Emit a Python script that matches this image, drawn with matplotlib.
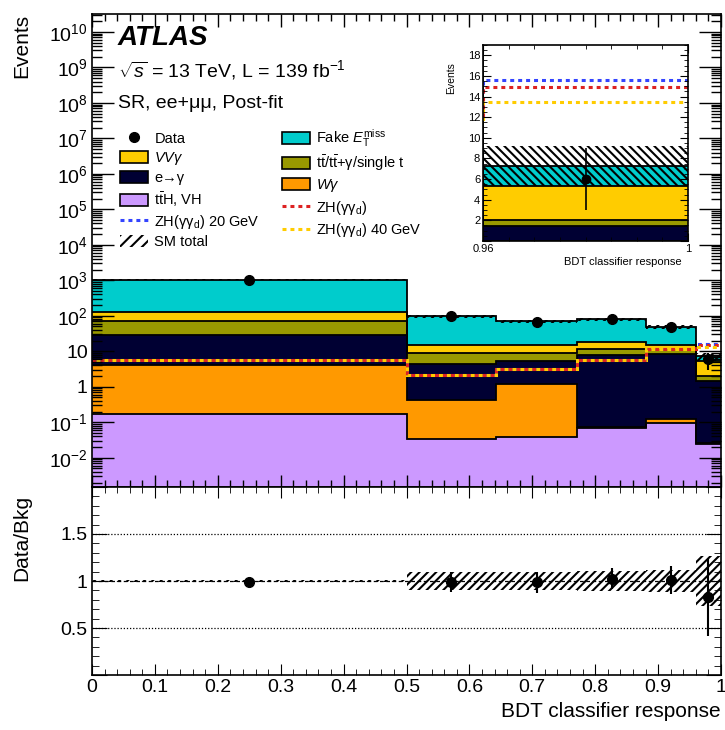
import numpy as np
import matplotlib
matplotlib.use('Agg')
import matplotlib.pyplot as plt
from matplotlib.patches import Patch
from matplotlib.lines import Line2D
from matplotlib.ticker import (FixedLocator, MultipleLocator, LogLocator,
                               FuncFormatter, NullFormatter)

plt.rcParams['font.family'] = ['Liberation Sans', 'DejaVu Sans']
plt.rcParams['mathtext.fontset'] = 'custom'
plt.rcParams['mathtext.rm'] = 'Liberation Sans'
plt.rcParams['mathtext.it'] = 'Liberation Sans:italic'
plt.rcParams['mathtext.bf'] = 'Liberation Sans:bold'
plt.rcParams['hatch.linewidth'] = 1.5

# BDT bins
edges = [0.0, 0.5, 0.643, 0.771, 0.881, 0.96, 1.0]
centers = [0.25, 0.571, 0.707, 0.826, 0.921, 0.98]

# post-fit yields per process, bottom of the stack first
tth_vh = [0.17, 0.034, 0.038, 0.071, 0.094, 0.025]
w_gamma = [4.03, 0.396, 1.15, 0.001, 0.031, 0.001]
e_gamma = [25.3, 4.07, 4.31, 7.93, 8.28, 1.41]
top_bkg = [40.5, 4.4, 3.4, 3.6, 2.2, 0.56]
vv_gamma = [56.0, 6.5, 6.1, 6.7, 4.0, 3.33]
fake_met = [924.0, 81.6, 55.0, 61.7, 33.9, 1.95]

# relative uncertainty on SM total
sm_unc = [0.015, 0.10, 0.10, 0.11, 0.12, 0.27]

# data
data = [1040, 96, 69, 82, 49, 6]
data_err = [32, 10, 8, 9, 7, 3]

# signal hypotheses (not stacked)
sig_zh = [5.8, 2.1, 3.2, 5.8, 11.8, 14.9]
sig_20 = [5.8, 2.1, 3.2, 5.8, 11.8, 15.6]
sig_40 = [5.8, 2.1, 3.2, 5.8, 11.8, 13.5]

procs = [tth_vh, w_gamma, e_gamma, top_bkg, vv_gamma, fake_met]
proc_cols = ['#cc99ff', '#ff9900', '#000033', '#999900', '#ffcc00', '#00cccc']
c_blue, c_red, c_yel = '#3344ff', '#dd2222', '#ffcc00'
dots = (0, (1.3, 1.3))
dots_off = (1.3, (1.3, 1.3))

total = np.sum(np.array(procs), axis=0)
unc = np.array(sm_unc)


def draw_stack(a, floor):
    prev = np.full(len(total), floor)
    cum = np.zeros(len(total))
    tops = []
    for vals, col in zip(procs, proc_cols):
        cum = cum + np.array(vals)
        a.stairs(cum, edges, baseline=prev, fill=True, color=col, lw=0)
        prev = cum.copy()
        tops.append(cum.copy())
    for t in tops:
        a.stairs(t, edges, baseline=None, color='k', lw=1.3)


def draw_signals(a, lw):
    a.stairs(sig_20, edges, baseline=None, color=c_blue, lw=lw, ls=dots)
    a.stairs(sig_zh, edges, baseline=None, color=c_red, lw=lw, ls=dots)
    a.stairs(sig_40, edges, baseline=None, color=c_yel, lw=lw, ls=dots_off)


fig = plt.figure(figsize=(7.25, 7.30), dpi=100)
ax = fig.add_axes([0.1269, 0.3329, 0.8676, 0.6479])
rax = fig.add_axes([0.1269, 0.0753, 0.8676, 0.2576], sharex=ax)

# ---- main panel
draw_stack(ax, 1e-5)
ax.stairs(total * (1 + unc), edges, baseline=total * (1 - unc), fill=True,
          facecolor='none', edgecolor='k', lw=0, hatch='////')
draw_signals(ax, 2.2)
ax.errorbar(centers, data, yerr=data_err, fmt='o', color='k', ms=7,
            elinewidth=1.5, capsize=0, zorder=5)

ax.set_yscale('log')
ax.set_ylim(1.5e-3, 3.2e10)
ax.set_xlim(0, 1)
ax.yaxis.set_major_locator(LogLocator(base=10, numticks=30))
ax.yaxis.set_minor_locator(LogLocator(base=10, subs=np.arange(2, 10), numticks=300))
ax.yaxis.set_minor_formatter(NullFormatter())


def log_fmt(v, pos):
    n = int(round(np.log10(v)))
    if n == 0:
        return '1'
    if n == 1:
        return '10'
    return r'$10^{%d}$' % n


ax.yaxis.set_major_formatter(FuncFormatter(log_fmt))
ax.tick_params(which='both', direction='in', top=True, right=True,
               labelbottom=False, labelsize=14, pad=3)
ax.tick_params(axis='y', which='major', length=16, width=1)
ax.tick_params(axis='y', which='minor', length=7, width=1)
ax.tick_params(axis='x', which='major', length=9, width=1)
ax.tick_params(axis='x', which='minor', length=5, width=1)
ax.xaxis.set_major_locator(MultipleLocator(0.1))
ax.xaxis.set_minor_locator(MultipleLocator(0.02))
ax.set_ylabel('Events', fontsize=15, loc='top')
ax.yaxis.set_label_coords(-0.097, 1.0)

fig.text(118 / 725, 1 - 45 / 730, 'ATLAS', fontsize=20, fontweight='bold',
         fontstyle='italic', va='baseline')
fig.text(118 / 725, 1 - 77 / 730, r'$\sqrt{s}$ = 13 TeV, L = 139 fb$^{-1}$',
         fontsize=14, va='baseline')
fig.text(118 / 725, 1 - 108 / 730, 'SR, ee+μμ, Post-fit', fontsize=14,
         va='baseline')

h_data = Line2D([], [], marker='o', color='k', ls='none', ms=7)
h_sm = Patch(facecolor='white', edgecolor='k', lw=0, hatch='///')


def box(c):
    return Patch(facecolor=c, edgecolor='k', lw=1.2)


handles = [h_data, box('#ffcc00'), box('#000033'), box('#cc99ff'),
           Line2D([], [], color=c_blue, lw=2.2, ls=dots), h_sm,
           box('#00cccc'), box('#999900'), box('#ff9900'),
           Line2D([], [], color=c_red, lw=2.2, ls=dots),
           Line2D([], [], color=c_yel, lw=2.2, ls=dots)]
labels = ['Data', r'$VV\gamma$', 'e→γ', r't$\bar{\rm t}$H, VH',
          r'ZH(γγ$_{\rm d}$) 20 GeV', 'SM total',
          r'Fake $E_{\rm T}^{\rm miss}$', r't$\bar{\rm t}$/t$\bar{\rm t}$+γ/single t',
          r'$W\gamma$', r'ZH(γγ$_{\rm d}$)',
          r'ZH(γγ$_{\rm d}$) 40 GeV']
ax.legend(handles, labels, ncol=2, loc='upper left', frameon=False,
          bbox_to_anchor=(120 / 725, 1 - 127 / 730), bbox_transform=fig.transFigure,
          fontsize=10.5, handlelength=1.9, handleheight=0.9, handletextpad=0.45,
          labelspacing=0.3, columnspacing=1.5, borderpad=0, borderaxespad=0)

# ---- inset
iax = fig.add_axes([0.6662, 0.6699, 0.2828, 0.2685])
draw_stack(iax, 0)
iax.stairs(total * (1 + unc), edges, baseline=total * (1 - unc), fill=True,
           facecolor='none', edgecolor='k', lw=0, hatch='\\\\\\\\')
draw_signals(iax, 2.2)
iax.errorbar(centers, data, yerr=data_err, fmt='o', color='k', ms=6,
             elinewidth=1.2, capsize=0, zorder=5)
iax.set_xlim(0.96, 1.0)
iax.set_ylim(0, 19)
iax.xaxis.set_major_locator(FixedLocator([0.96, 1.0]))
iax.xaxis.set_major_formatter(FuncFormatter(lambda v, p: '%g' % round(v, 3)))
iax.xaxis.set_minor_locator(MultipleLocator(0.005))
iax.yaxis.set_major_locator(MultipleLocator(2))
iax.yaxis.set_minor_locator(MultipleLocator(0.5))
iax.yaxis.set_major_formatter(FuncFormatter(lambda v, p: '' if v == 0 else '%d' % v))
iax.tick_params(which='both', direction='in', top=True, right=True,
                labelsize=8, pad=2)
iax.tick_params(which='major', length=6)
iax.tick_params(which='minor', length=3)
iax.set_ylabel('Events', fontsize=7.5, loc='top')
iax.yaxis.set_label_coords(-0.13, 0.91)
iax.set_xlabel('BDT classifier response', fontsize=8, loc='right')
iax.xaxis.set_label_coords(0.97, -0.08)

# ---- ratio panel
d = np.array(data, dtype=float)
ratio = d / total
ratio_err = np.array(data_err) / total
rax.stairs(1 + unc, edges, baseline=1 - unc, fill=True, facecolor='none',
           edgecolor='k', lw=0, hatch='////')
rax.axhline(1.0, color='k', lw=0.9, ls=(0, (3, 2)))
for yy in (0.5, 1.5):
    rax.axhline(yy, color='k', lw=0.9, ls=(0, (1, 1.5)))
rax.errorbar(centers, ratio, yerr=ratio_err, fmt='o', color='k', ms=7,
             elinewidth=1.5, capsize=0, zorder=5)
rax.set_ylim(0, 2)
rax.yaxis.set_major_locator(MultipleLocator(0.5))
rax.yaxis.set_minor_locator(MultipleLocator(0.1))
rax.yaxis.set_major_formatter(FuncFormatter(lambda v, p: '' if v in (0, 2) else '%g' % v))
rax.xaxis.set_major_formatter(FuncFormatter(lambda v, p: '%g' % round(v, 2)))
rax.tick_params(which='both', direction='in', top=True, right=True,
                labelsize=14, pad=3)
rax.tick_params(axis='y', which='major', length=11)
rax.tick_params(axis='y', which='minor', length=5)
rax.tick_params(axis='x', which='major', length=8)
rax.tick_params(axis='x', which='minor', length=4)
rax.set_ylabel('Data/Bkg', fontsize=15, loc='top')
rax.yaxis.set_label_coords(-0.097, 0.96)
rax.set_xlabel('BDT classifier response', fontsize=15, loc='right')

for a in (ax, rax, iax):
    for s in a.spines.values():
        s.set_linewidth(1.2)

fig.savefig('out.png', dpi=100)
